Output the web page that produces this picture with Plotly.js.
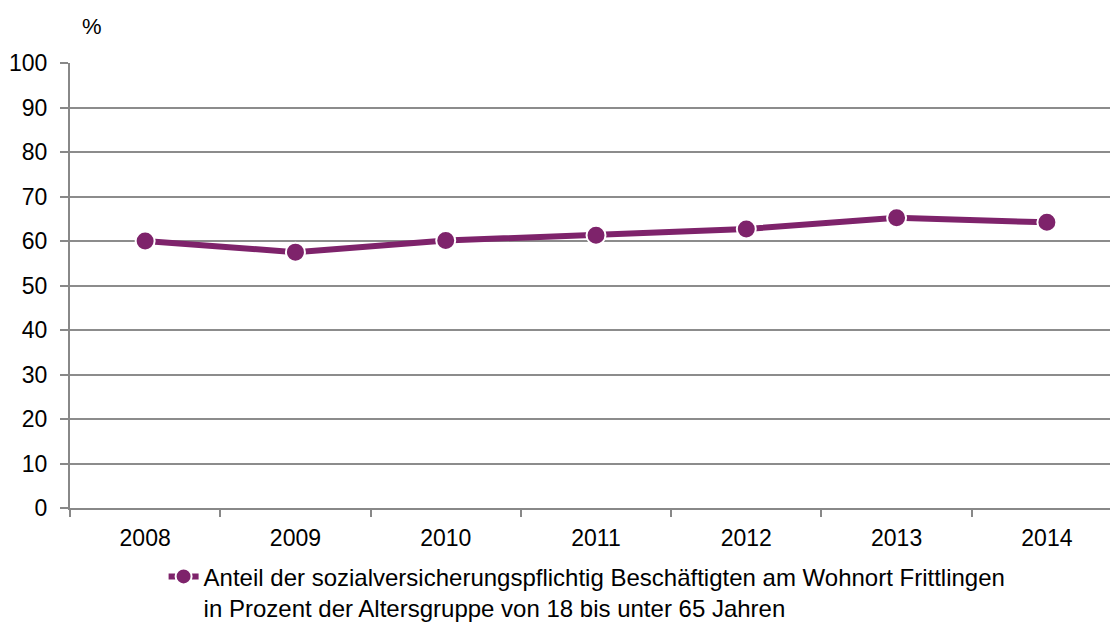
<!DOCTYPE html>
<html>
<head>
<meta charset="utf-8">
<script src="https://cdn.plot.ly/plotly-3.0.1.min.js"></script>
<style>html,body{margin:0;padding:0;background:#fff;}#chart{width:1110px;height:624px;}</style>
</head>
<body>
<div id="chart"></div>
<script>
const years = ["2008", "2009", "2010", "2011", "2012", "2013", "2014"];
const values = [60.0, 57.5, 60.1, 61.3, 62.7, 65.2, 64.2];
const seriesName = "Anteil der sozialversicherungspflichtig Beschäftigten am Wohnort Frittlingen<br>in Prozent der Altersgruppe von 18 bis unter 65 Jahren";
const yTicks = [0, 10, 20, 30, 40, 50, 60, 70, 80, 90, 100];

const color = "#7E236B";
const trace = {
  x: years,
  y: values,
  type: "scatter",
  mode: "lines+markers",
  name: seriesName,
  line: {color: color, width: 6},
  marker: {color: color, size: 19, line: {color: "#ffffff", width: 2}}
};

const layout = {
  width: 1110,
  height: 624,
  margin: {l: 70, r: 0, t: 63, b: 116, autoexpand: false},
  paper_bgcolor: "#ffffff",
  plot_bgcolor: "#ffffff",
  font: {family: "Liberation Sans, Arial, sans-serif", size: 23, color: "#000000"},
  showlegend: true,
  legend: {
    orientation: "h",
    x: 0.09, xanchor: "left",
    y: -0.104, yanchor: "top",
    valign: "top",
    font: {size: 24, color: "#000000"},
    tracegroupgap: 0
  },
  xaxis: {
    type: "category",
    range: [-0.5, 6.42],
    tickson: "boundaries",
    ticks: "outside",
    ticklen: 7,
    tickwidth: 2,
    tickcolor: "#888888",
    ticklabelstandoff: 8,
    showgrid: false,
    showline: true,
    linecolor: "#888888",
    linewidth: 2,
    zeroline: false,
    fixedrange: true,
    tickfont: {size: 23}
  },
  yaxis: {
    range: [0, 100],
    tickmode: "array",
    tickvals: yTicks,
    ticktext: yTicks.map(String),
    ticks: "outside",
    ticklen: 8,
    tickwidth: 2,
    tickcolor: "#888888",
    ticklabelstandoff: 8,
    showgrid: true,
    gridcolor: "#8c8c8c",
    gridwidth: 2,
    showline: true,
    linecolor: "#888888",
    linewidth: 2,
    zeroline: false,
    fixedrange: true,
    tickfont: {size: 23}
  },
  annotations: [{
    text: "%",
    xref: "paper", yref: "paper",
    x: 22 / 1040, y: 1 + 36 / 445,
    xanchor: "center", yanchor: "middle",
    showarrow: false,
    font: {size: 22, color: "#000000"}
  }]
};

Plotly.newPlot("chart", [trace], layout, {displayModeBar: false, staticPlot: true});
</script>
</body>
</html>
